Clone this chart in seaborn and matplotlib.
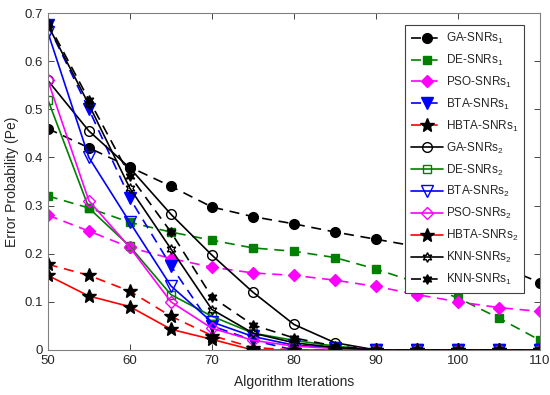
import pandas as pd
import seaborn as sns
import matplotlib.pyplot as plt

# DATA
iters = [50, 55, 60, 65, 70, 75, 80, 85, 90, 95, 100, 105, 110]

ga_snr1 = [0.46, 0.42, 0.38, 0.34, 0.297, 0.277, 0.262, 0.245, 0.23, 0.215, 0.2, 0.175, 0.14]
de_snr1 = [0.32, 0.295, 0.265, 0.245, 0.228, 0.212, 0.205, 0.192, 0.168, 0.14, 0.108, 0.066, 0.02]
pso_snr1 = [0.28, 0.247, 0.213, 0.19, 0.172, 0.16, 0.155, 0.145, 0.132, 0.115, 0.1, 0.088, 0.08]
bta_snr1 = [0.675, 0.5, 0.315, 0.175, 0.05, 0.02, 0.0, 0, 0, 0, 0, 0, 0]
hbta_snr1 = [0.178, 0.155, 0.122, 0.07, 0.03, 0.005, 0.0, 0, 0, 0, 0, 0, 0]
ga_snr2 = [0.56, 0.455, 0.378, 0.282, 0.197, 0.12, 0.053, 0.015, 0, 0, 0, 0, 0]
de_snr2 = [0.52, 0.295, 0.215, 0.115, 0.07, 0.035, 0.02, 0.008, 0, 0, 0, 0, 0]
bta_snr2 = [0.66, 0.4, 0.265, 0.133, 0.058, 0.028, 0.01, 0.005, 0, 0, 0, 0, 0]
pso_snr2 = [0.56, 0.31, 0.213, 0.1, 0.045, 0.02, 0.008, 0.003, 0, 0, 0, 0, 0]
hbta_snr2 = [0.155, 0.112, 0.09, 0.043, 0.022, 0.0, 0, 0, 0, 0, 0, 0, 0]
knn_snr2 = [0.675, 0.51, 0.336, 0.21, 0.084, 0.035, 0.015, 0.005, 0, 0, 0, 0, 0]
knn_snr1 = [0.68, 0.52, 0.362, 0.245, 0.11, 0.052, 0.025, 0.008, 0, 0, 0, 0, 0]

# (label, values, line colour, linestyle, marker, marker face, marker edge, size)
series = [
    ("GA-SNRs$_1$", ga_snr1, "black", (0, (6, 4)), "o", "black", "black", 7),
    ("DE-SNRs$_1$", de_snr1, "green", (0, (6, 4)), "s", "green", "green", 6),
    ("PSO-SNRs$_1$", pso_snr1, "magenta", (0, (6, 4)), "D", "magenta", "magenta", 6),
    ("BTA-SNRs$_1$", bta_snr1, "blue", (0, (6, 4)), "v", "blue", "blue", 8),
    ("HBTA-SNRs$_1$", hbta_snr1, "red", (0, (6, 4)), "*", "black", "black", 10),
    ("GA-SNRs$_2$", ga_snr2, "black", "-", "o", "none", "black", 7),
    ("DE-SNRs$_2$", de_snr2, "green", "-", "s", "none", "green", 6),
    ("BTA-SNRs$_2$", bta_snr2, "blue", "-", "v", "none", "blue", 8),
    ("PSO-SNRs$_2$", pso_snr2, "magenta", "-", "D", "none", "magenta", 6),
    ("HBTA-SNRs$_2$", hbta_snr2, "red", "-", "*", "black", "black", 10),
    ("KNN-SNRs$_2$", knn_snr2, "black", "-", (6, 1, 0), "none", "black", 7),
    ("KNN-SNRs$_1$", knn_snr1, "black", (0, (6, 4)), (6, 1, 0), "black", "black", 7),
]

sns.set_style("ticks")
plt.rcParams["font.family"] = ["Liberation Sans", "DejaVu Sans"]
plt.rcParams["mathtext.fontset"] = "custom"
plt.rcParams["mathtext.rm"] = "Liberation Sans"
plt.rcParams["mathtext.it"] = "Liberation Sans"

fig = plt.figure(figsize=(5.5, 3.95), dpi=100)
ax = fig.add_axes([0.087, 0.114, 0.895, 0.853])

for label, vals, col, ls, mk, mfc, mec, ms in series:
    df = pd.DataFrame({"x": iters, "y": vals})
    sns.lineplot(data=df, x="x", y="y", ax=ax, color=col, linestyle=ls,
                 marker=mk, markerfacecolor=mfc, markeredgecolor=mec,
                 markersize=ms, markeredgewidth=1.0, linewidth=1.2, label=label)

ax.set_xlim(50, 110)
ax.set_ylim(0, 0.7)
ax.set_xticks(range(50, 111, 10))
ax.set_yticks([0, 0.1, 0.2, 0.3, 0.4, 0.5, 0.6, 0.7])
ax.set_yticklabels(["0", "0.1", "0.2", "0.3", "0.4", "0.5", "0.6", "0.7"])
ax.set_xlabel("Algorithm Iterations", fontsize=10, labelpad=6)
ax.set_ylabel("Error Probability (Pe)", fontsize=10)
ax.tick_params(direction="in", length=4, labelsize=9.5, colors="#262626",
               top=True, right=True, width=0.6)
for sp in ax.spines.values():
    sp.set_visible(True)
    sp.set_color("#808080")
    sp.set_linewidth(0.8)

leg = ax.legend(loc="upper right", bbox_to_anchor=(0.968, 0.965), fontsize=8.5,
                frameon=True, fancybox=False, edgecolor="#404040", framealpha=1,
                handlelength=2.7, labelspacing=0.58, borderpad=0.5,
                handletextpad=0.25, borderaxespad=0)
leg.get_frame().set_linewidth(0.8)

fig.savefig("out.png", dpi=100)
